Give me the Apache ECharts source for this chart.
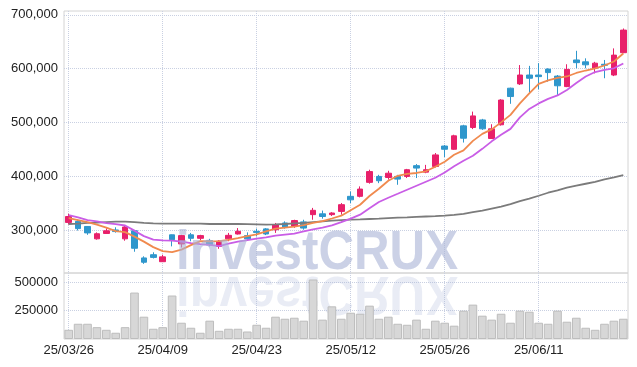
<!DOCTYPE html>
<html>
  <head>
    <title></title>
    <meta charset="UTF-8" />
    <script src="https://cdn.jsdelivr.net/npm/echarts@6/dist/echarts.min.js"></script>
    <style>
      html, body { margin: 0; padding: 0; background: #fff; }
    </style>
  </head>
  <body>
    <div id="main"></div>
    <script>
      const width = 637;
      const height = 367;
      const main = document.getElementById('main');
      main.style.width = `${width}px`;
      main.style.height = `${height}px`;

      const dates = [
        '25/03/26', '25/03/27', '25/03/28', '25/03/31', '25/04/01', '25/04/02', '25/04/03', '25/04/04', '25/04/07', '25/04/08',
        '25/04/09', '25/04/10', '25/04/11', '25/04/14', '25/04/15', '25/04/16', '25/04/17', '25/04/18', '25/04/21', '25/04/22',
        '25/04/23', '25/04/24', '25/04/25', '25/04/28', '25/04/29', '25/04/30', '25/05/02', '25/05/07', '25/05/08', '25/05/09',
        '25/05/12', '25/05/13', '25/05/14', '25/05/15', '25/05/16', '25/05/19', '25/05/20', '25/05/21', '25/05/22', '25/05/23',
        '25/05/26', '25/05/27', '25/05/28', '25/05/29', '25/05/30', '25/06/02', '25/06/04', '25/06/05', '25/06/09', '25/06/10',
        '25/06/11', '25/06/12', '25/06/13', '25/06/16', '25/06/17', '25/06/18', '25/06/19', '25/06/20', '25/06/23', '25/06/24'
      ];

      const opens = [
        314000, 316000, 306500, 283500, 293500, 300000, 283500, 298500, 248000, 254000,
        241000, 291000, 274000, 291000, 284500, 280000, 269500, 283500, 292500, 289500,
        297500, 302000, 300500, 313000, 306500, 315000, 328500, 330000, 328500, 334500,
        362500, 362500, 388500, 399500, 397500, 399500, 399500, 419500, 407500, 418000,
        456000, 450000, 493500, 490500, 504500, 470000, 495500, 563500, 571500, 588000,
        588000, 599000, 586000, 566500, 616000, 612500, 600500, 608000, 588000, 629500
      ];
      const closes = [
        325000, 302500, 294500, 293000, 298500, 297000, 305500, 266000, 240000, 249000,
        250000, 282000, 289500, 284500, 289500, 272500, 279000, 290000, 297500, 283500,
        295500, 292500, 310000, 305000, 317500, 303500, 336500, 325000, 331500, 347000,
        356000, 376000, 408500, 391500, 405500, 394500, 412000, 415000, 412000, 439500,
        450000, 475000, 470500, 512000, 488000, 488000, 541500, 548000, 588000, 582000,
        585000, 592500, 568000, 598500, 611000, 607000, 610000, 606000, 625000, 671500
      ];
      const lows = [
        310000, 299000, 291000, 282000, 292500, 295000, 280000, 259500, 237000, 247000,
        240500, 269500, 267500, 279000, 281000, 269500, 265000, 279000, 291500, 282000,
        288000, 290500, 294500, 302500, 304000, 300500, 319000, 321000, 326000, 328500,
        350000, 360500, 386000, 387000, 393500, 384000, 396500, 396500, 405500, 416000,
        435500, 449000, 462500, 487500, 486000, 469000, 494000, 534500, 569500, 555500,
        561500, 575500, 551000, 565500, 600500, 600500, 591000, 582000, 586000, 628500
      ];
      const highs = [
        330000, 319000, 307000, 295500, 303000, 305000, 309000, 300000, 251000, 258500,
        254000, 291500, 291000, 294500, 291000, 283500, 281000, 294500, 303500, 295500,
        302500, 303500, 313000, 316000, 319000, 319000, 341000, 336000, 333000, 350000,
        371500, 381000, 412000, 402500, 410000, 402500, 413500, 422500, 421000, 443000,
        458000, 477000, 495500, 520000, 506500, 496500, 543000, 564500, 606500, 605000,
        610000, 600500, 588000, 608000, 633000, 619000, 612500, 616000, 637500, 674500
      ];

      const ma5 = [
        321900, 318200, 314500, 309800, 304300, 297800, 295900, 287600, 278300, 268100,
        260700, 258800, 263500, 271800, 279200, 278900, 279200, 281500, 284800, 288500,
        291700, 297200, 302400, 304300, 306100, 308900, 313000, 316300, 321300, 326500,
        336700, 346900, 363100, 376600, 391500, 400700, 404400, 405900, 409100, 417400,
        426700, 439700, 448000, 465600, 478600, 487000, 500000, 513900, 535200, 553800,
        571400, 577900, 582500, 585300, 591800, 596400, 600500, 605700, 613100, 628000
      ];
      const ma10 = [
        327500, 323200, 318200, 316000, 312600, 310800, 308300, 298700, 288500, 282000,
        280500, 280200, 278300, 275500, 273700, 272200, 270000, 274600, 278300, 281100,
        283900, 286300, 289400, 291300, 293100, 297200, 301100, 304300, 308500, 314500,
        321000, 328400, 340400, 351900, 359900, 367300, 374800, 382200, 389600, 397000,
        406700, 418300, 428600, 437800, 450800, 464700, 476800, 487900, 509200, 525000,
        535200, 543600, 550000, 560300, 573200, 585300, 593600, 597400, 600500, 609400
      ];
      const maLong = [
        311100, 311700, 313000, 313500, 314500, 315400, 315400, 314500, 313000, 312200,
        311700, 311700, 311700, 311700, 311700, 311100, 311100, 311100, 311100, 310800,
        310400, 309800, 310400, 311100, 312100, 313000, 314500, 316000, 317300, 318200,
        319100, 319700, 320400, 321000, 321900, 322800, 323400, 324300, 325000, 325600,
        326500, 328000, 329900, 333000, 335800, 339500, 343200, 347900, 353400, 358100,
        363600, 369200, 373800, 378500, 382200, 385900, 389600, 394200, 397900, 402000
      ];

      const volumes = [
        81000, 134000, 134000, 104000, 81000, 55000, 104000, 408000, 196000, 90000,
        104000, 382000, 143000, 99000, 55000, 161000, 72000, 90000, 90000, 66000,
        125000, 99000, 196000, 178000, 187000, 161000, 523000, 170000, 287000, 178000,
        231000, 222000, 293000, 178000, 196000, 134000, 125000, 170000, 90000, 161000,
        143000, 117000, 249000, 302000, 205000, 170000, 222000, 143000, 249000, 240000,
        143000, 134000, 249000, 152000, 187000, 99000, 81000, 134000, 161000, 178000
      ];

      const priceTicks = [300000, 400000, 500000, 600000, 700000];
      const volumeTicks = [250000, 500000];

      const candles = dates.map((d, i) => [opens[i], closes[i], lows[i], highs[i]]);

      const labelFont = '"Liberation Sans", Arial, sans-serif';
      const splitStyle = { color: '#c9d0e2', type: 'dotted', width: 1 };
      const markFont = 'bold 56px "Liberation Sans", Arial, sans-serif';

      const myChart = echarts.init(main, null, { renderer: 'canvas' });
      const option = {
        animation: false,
        backgroundColor: '#fff',
        grid: [
          { left: 64, right: 9, top: 11, height: 262, show: true, borderColor: '#d4d4d4', borderWidth: 1 },
          { left: 64, right: 9, top: 273, height: 66, show: true, borderColor: '#d4d4d4', borderWidth: 1 }
        ],
        xAxis: [
          {
            type: 'category',
            gridIndex: 0,
            data: dates,
            boundaryGap: true,
            axisLine: { show: false },
            axisTick: { show: false },
            axisLabel: { show: false },
            splitLine: { show: true, interval: 9, alignWithLabel: true, lineStyle: splitStyle }
          },
          {
            type: 'category',
            gridIndex: 1,
            data: dates,
            boundaryGap: true,
            axisLine: { show: false },
            axisTick: { show: false },
            axisLabel: { interval: 9, margin: 5, color: '#222', fontSize: 13, fontFamily: labelFont },
            splitLine: { show: true, interval: 9, alignWithLabel: true, lineStyle: splitStyle }
          }
        ],
        yAxis: [
          {
            type: 'value',
            gridIndex: 0,
            min: 220000,
            max: 707000,
            axisLine: { show: false },
            axisTick: { show: false, customValues: priceTicks },
            axisLabel: {
              customValues: priceTicks,
              margin: 6,
              color: '#222',
              fontSize: 13,
              fontFamily: labelFont,
              formatter: v => v.toLocaleString('en-US')
            },
            splitLine: { show: true, lineStyle: splitStyle }
          },
          {
            type: 'value',
            gridIndex: 1,
            min: 0,
            max: 580000,
            axisLine: { show: false },
            axisTick: { show: false, customValues: volumeTicks },
            axisLabel: {
              customValues: volumeTicks,
              margin: 6,
              color: '#222',
              fontSize: 13,
              fontFamily: labelFont,
              formatter: v => String(v)
            },
            splitLine: { show: true, lineStyle: splitStyle }
          }
        ],
        graphic: [
          {
            type: 'text',
            x: 176,
            y: 292,
            scaleX: 0.88,
            scaleY: -1,
            z: 1,
            silent: true,
            style: { text: 'investCRUX', font: markFont, fill: 'rgba(168,178,214,0.25)', align: 'left', verticalAlign: 'middle' }
          },
          {
            type: 'text',
            x: 176,
            y: 254,
            scaleX: 0.88,
            z: 100,
            silent: true,
            style: { text: 'investCRUX', font: markFont, fill: 'rgba(168,178,214,0.6)', align: 'left', verticalAlign: 'middle' }
          }
        ],
        series: [
          {
            type: 'candlestick',
            xAxisIndex: 0,
            yAxisIndex: 0,
            data: candles,
            barWidth: 6,
            itemStyle: {
              color: '#e8206a',
              color0: '#2f97cc',
              borderColor: '#e8206a',
              borderColor0: '#2f97cc',
              borderWidth: 1
            }
          },
          {
            type: 'line',
            xAxisIndex: 0,
            yAxisIndex: 0,
            data: maLong,
            showSymbol: false,
            lineStyle: { color: '#7b7b7b', width: 1.8 }
          },
          {
            type: 'line',
            xAxisIndex: 0,
            yAxisIndex: 0,
            data: ma10,
            showSymbol: false,
            lineStyle: { color: '#c95de6', width: 1.8 }
          },
          {
            type: 'line',
            xAxisIndex: 0,
            yAxisIndex: 0,
            data: ma5,
            showSymbol: false,
            lineStyle: { color: '#f08a4e', width: 1.8 }
          },
          {
            type: 'bar',
            xAxisIndex: 1,
            yAxisIndex: 1,
            data: volumes,
            barCategoryGap: '8%',
            itemStyle: { color: '#d7d7d7', borderColor: '#bdbdbd', borderWidth: 1 }
          }
        ]
      };
      myChart.setOption(option);
    </script>
  </body>
</html>
